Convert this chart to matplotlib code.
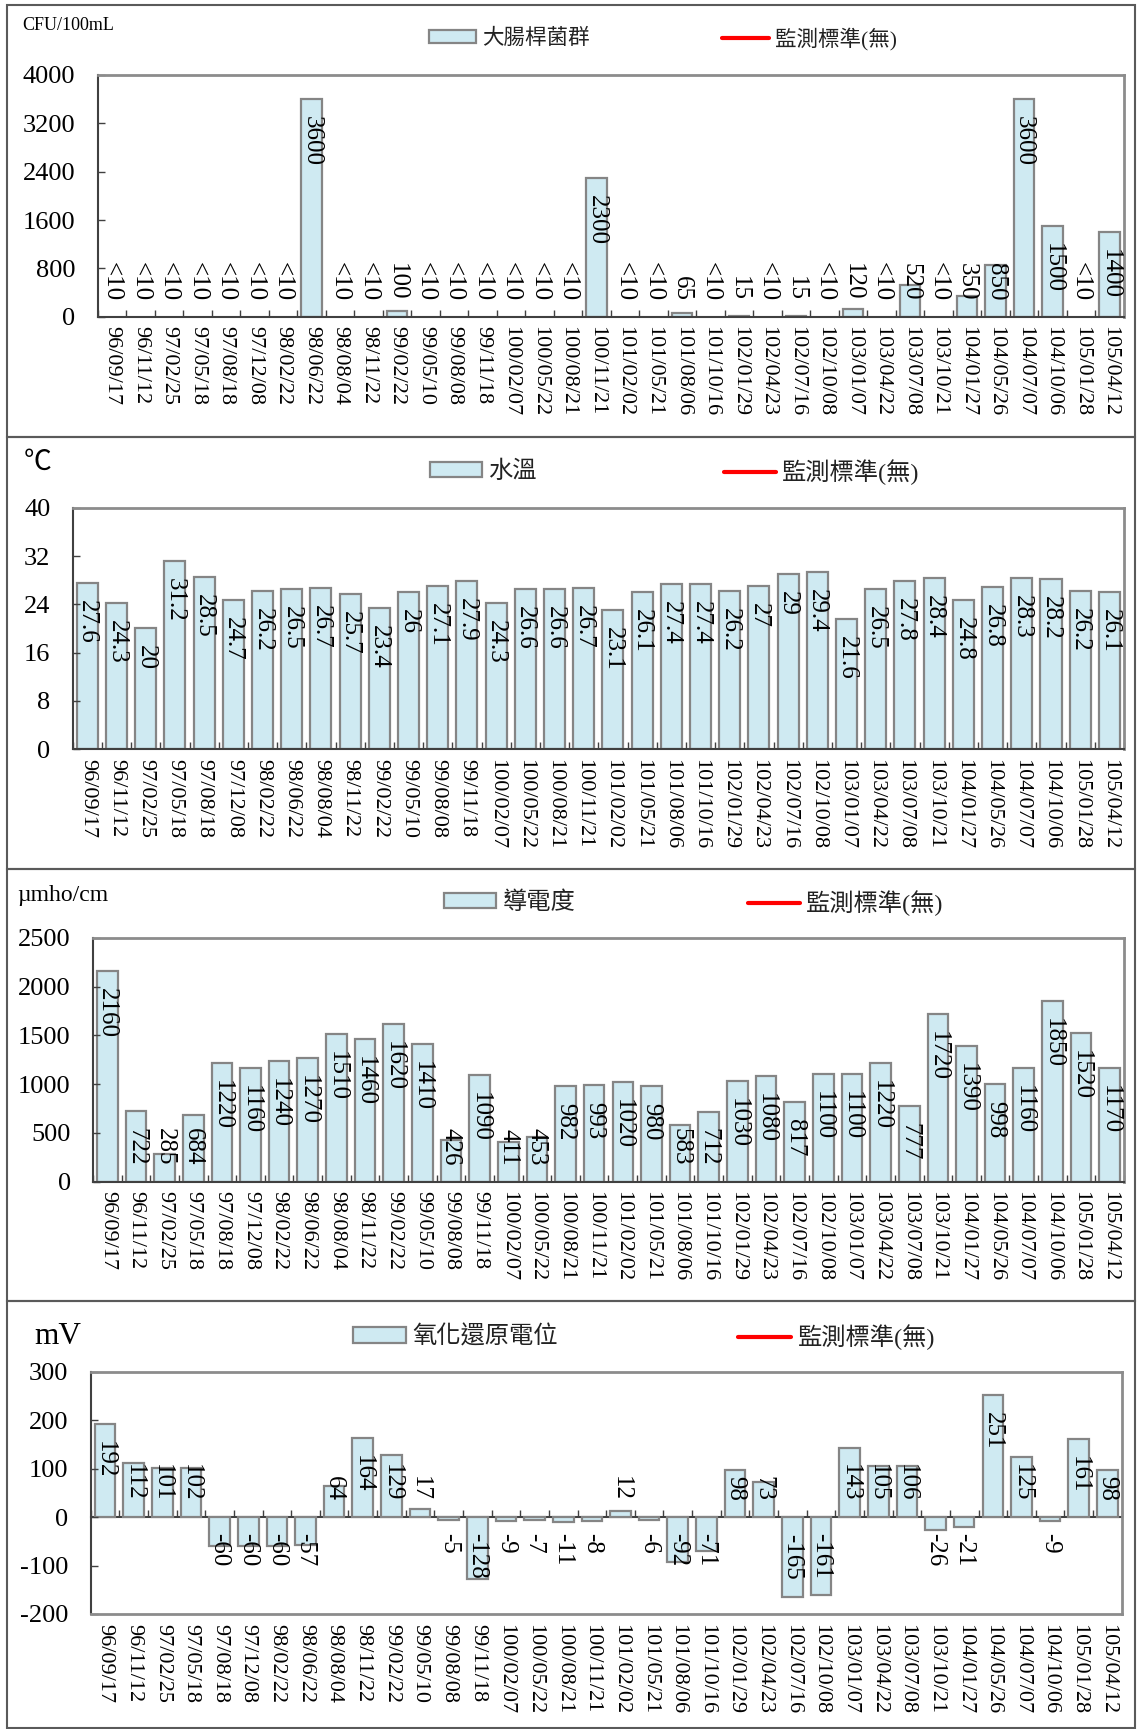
import numpy as np
import matplotlib
matplotlib.use('Agg')
import matplotlib.pyplot as plt
from matplotlib.lines import Line2D
from matplotlib.patches import Rectangle
from matplotlib.font_manager import FontProperties
from matplotlib.textpath import TextToPath

plt.rcParams['font.family'] = ['Liberation Serif', 'Noto Sans CJK TC']
plt.rcParams['axes.unicode_minus'] = False

dates = ['96/09/17', '96/11/12', '97/02/25', '97/05/18', '97/08/18', '97/12/08',
         '98/02/22', '98/06/22', '98/08/04', '98/11/22', '99/02/22', '99/05/10',
         '99/08/08', '99/11/18', '100/02/07', '100/05/22', '100/08/21', '100/11/21',
         '101/02/02', '101/05/21', '101/08/06', '101/10/16', '102/01/29', '102/04/23',
         '102/07/16', '102/10/08', '103/01/07', '103/04/22', '103/07/08', '103/10/21',
         '104/01/27', '104/05/26', '104/07/07', '104/10/06', '105/01/28', '105/04/12']

# '<10' = below detection limit
coliform = ['<10', '<10', '<10', '<10', '<10', '<10', '<10', 3600, '<10', '<10',
            100, '<10', '<10', '<10', '<10', '<10', '<10', 2300, '<10', '<10',
            65, '<10', 15, '<10', 15, '<10', 120, '<10', 520, '<10',
            350, 850, 3600, 1500, '<10', 1400]
water_temp = [27.6, 24.3, 20, 31.2, 28.5, 24.7, 26.2, 26.5, 26.7, 25.7, 23.4, 26,
              27.1, 27.9, 24.3, 26.6, 26.6, 26.7, 23.1, 26.1, 27.4, 27.4, 26.2, 27,
              29, 29.4, 21.6, 26.5, 27.8, 28.4, 24.8, 26.8, 28.3, 28.2, 26.2, 26.1]
conductivity = [2160, 722, 285, 684, 1220, 1160, 1240, 1270, 1510, 1460, 1620, 1410,
                426, 1090, 411, 453, 982, 993, 1020, 980, 583, 712, 1030, 1080,
                817, 1100, 1100, 1220, 777, 1720, 1390, 998, 1160, 1850, 1520, 1170]
orp = [192, 112, 101, 102, -60, -60, -60, -57, 64, 164, 129, 17,
       -5, -128, -9, -7, -11, -8, 12, -6, -92, -71, 98, 73,
       -165, -161, 143, 105, 106, -26, -21, 251, 125, -9, 161, 98]

W, H = 1137, 1729
BAR_FC = '#cfeaf2'
BAR_EC = '#858585'
DARK = '#404040'
GRAY = '#8c8c8c'
VAL_FS = 18
DATE_FS = 16
ttp = TextToPath()


def text_px(s, fs):
    w, h, d = ttp.get_text_width_height_descent(
        s, FontProperties(family='Liberation Serif', size=fs), ismath=False)
    return w * 100 / 72


def panel(fig, box, values, ylim, ystep, unit, unit_xy, unit_fs,
          name, leg_x, leg_y, leg_fs, handle_len=2.2):
    l, t, r, b = box
    ax = fig.add_axes([l / W, 1 - b / H, (r - l) / W, (b - t) / H])
    heights = [v if not isinstance(v, str) else 0 for v in values]
    labels = [str(v) for v in values]
    x = np.arange(len(dates))
    bars = ax.bar(x, heights, width=0.72, color=BAR_FC, edgecolor=BAR_EC, linewidth=1.6)
    for p, v in zip(bars.patches, values):
        if isinstance(v, str):
            p.set_visible(False)
    ax.set_xlim(-0.5, len(dates) - 0.5)
    ax.set_ylim(*ylim)
    ax.set_yticks(np.arange(ylim[0], ylim[1] + ystep / 2, ystep))
    ax.tick_params(axis='y', direction='in', length=5, width=1, color=DARK,
                   labelsize=19, pad=16)
    ax.set_xticks(x)
    ax.set_xticklabels(dates, rotation=270, fontsize=DATE_FS)
    ax.tick_params(axis='x', which='major', length=0, pad=7)
    for s in ['top', 'right']:
        ax.spines[s].set_color(GRAY)
        ax.spines[s].set_linewidth(2)
    ax.spines['left'].set_color(DARK)
    ax.spines['left'].set_linewidth(1.5)

    boundaries = np.arange(len(dates) + 1) - 0.5
    if ylim[0] < 0:
        ax.spines['bottom'].set_color(GRAY)
        ax.spines['bottom'].set_linewidth(2)
        zero = (0 - ylim[0]) / (ylim[1] - ylim[0])
        sec = ax.secondary_xaxis(zero)
        sec.set_xticks(boundaries)
        sec.set_xticklabels([])
        sec.tick_params(direction='in', length=5, width=1, color=DARK)
        sec.spines['bottom'].set_color(DARK)
        sec.spines['bottom'].set_linewidth(1.5)
    else:
        ax.spines['bottom'].set_color(DARK)
        ax.spines['bottom'].set_linewidth(1.5)
        ax.set_xticks(boundaries, minor=True)
        ax.tick_params(axis='x', which='minor', direction='in', length=5, width=1,
                       color=DARK)

    # value labels: inside end, pushed clear of the axis for short bars
    ppu = (b - t) / (ylim[1] - ylim[0])
    inset, margin = 17, 16
    for i, (v, s) in enumerate(zip(heights, labels)):
        L = text_px(s, VAL_FS)
        bar_px = abs(v) * ppu
        if bar_px - inset - L >= margin:
            xy = (i, v)
            off = -inset if v >= 0 else inset
            va = 'top' if v >= 0 else 'bottom'
        else:
            xy = (i, 0)
            off = margin if v >= 0 else -margin
            va = 'bottom' if v >= 0 else 'top'
        ax.annotate(s, xy=xy, xytext=(0, off * 0.72), textcoords='offset points',
                    rotation=270, ha='center', va=va, fontsize=VAL_FS)

    fig.text(unit_xy[0] / W, 1 - unit_xy[1] / H, unit, fontsize=unit_fs,
             ha='left', va='center')

    prop = FontProperties(family=['Liberation Serif', 'Noto Sans CJK TC'], size=leg_fs)
    box_handle = Rectangle((0, 0), 1, 1, facecolor=BAR_FC, edgecolor=BAR_EC, linewidth=1.6)
    red = Line2D([], [], color='red', lw=3, solid_capstyle='round')
    for handle, lab, lx in [(box_handle, name, leg_x[0]), (red, '監測標準(無)', leg_x[1])]:
        fig.legend(handles=[handle], labels=[lab], loc='center left',
                   bbox_to_anchor=(lx / W, 1 - leg_y / H), bbox_transform=fig.transFigure,
                   frameon=False, borderpad=0, borderaxespad=0, handlelength=handle_len,
                   handleheight=0.6, handletextpad=0.25, prop=prop, labelcolor='#222222')
    return ax


fig = plt.figure(figsize=(W / 100, H / 100), dpi=100)

for top, bot in [(5, 437), (437, 869), (869, 1301), (1301, 1728)]:
    fig.add_artist(Rectangle((7 / W, 1 - bot / H), (1135 - 7) / W, (bot - top) / H,
                             transform=fig.transFigure, fill=False,
                             edgecolor='#5a5a5a', linewidth=1.5))

panel(fig, (97.7, 75, 1124, 316.7), coliform, (0, 4000), 800,
      'CFU/100mL', (22, 25), 13, '大腸桿菌群', (429, 722), 39, 15.5)
panel(fig, (72.7, 507.7, 1124, 749.3), water_temp, (0, 40), 8,
      '℃', (24, 463), 20, '水溫', (430, 724), 472, 17.5, 2.15)
panel(fig, (93, 937.7, 1124, 1181.7), conductivity, (0, 2500), 500,
      'µmho/cm', (17, 895), 17, '導電度', (444, 748), 903, 17.5, 2.15)
panel(fig, (90.7, 1371.7, 1121.7, 1614), orp, (-200, 300), 100,
      'mV', (34, 1337), 22.5, '氧化還原電位', (353, 738), 1337, 17.5, 2.2)

fig.savefig('out.png', dpi=100)
